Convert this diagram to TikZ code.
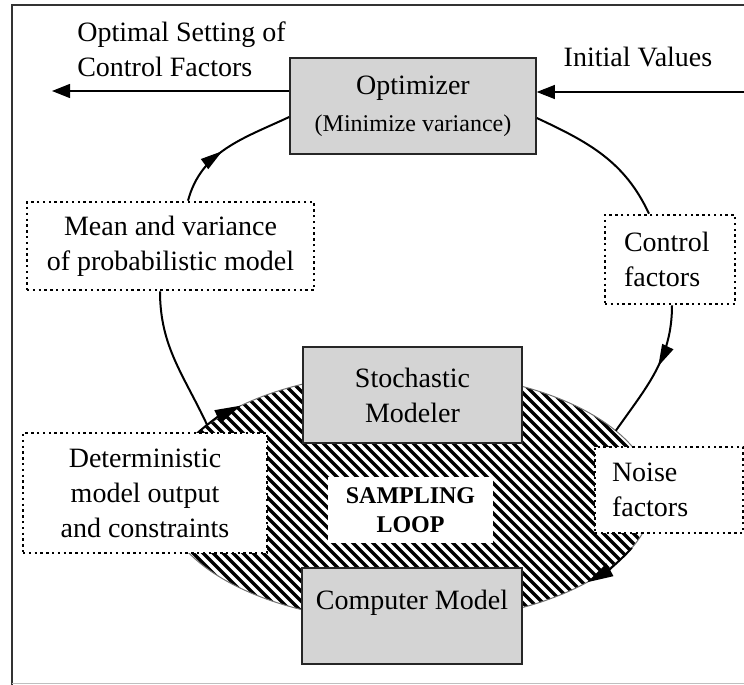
\documentclass[tikz,border=0pt]{standalone}
\usepackage{fontspec}
\setmainfont{Liberation Serif}
\newfontfamily\tms{Liberation Serif}
\usetikzlibrary{arrows.meta, calc, decorations.markings}

\begin{document}
\begin{tikzpicture}[
    x=0.5pt, y=-0.5pt, font=\tms\fontsize{14}{17.5}\selectfont,
    block/.style={draw=black!85, fill=black!17, line width=0.8pt, inner sep=0pt, align=center},
    note/.style={draw=black, line width=1.3pt, dash pattern=on 1.2pt off 1.7pt, fill=white, inner sep=0pt, align=center},
    link/.style={-{Triangle[length=9pt,width=7pt]}, line width=0.6pt},
    feed/.style={line width=1pt, postaction={decorate}, decoration={markings, mark=at position #1 with {\arrow{Triangle[length=11pt,width=6pt]}}}},
    feed/.default=0.5,
    bare/.style={line width=1pt},
    hatch/.style={line width=1.6pt},
    rim/.style={draw=black!55, line width=0.5pt},
    ontip/.style={-{Triangle[length=13pt,width=7pt]}, line width=1pt},
    frame/.style={draw=black!80, line width=0.7pt}
]
    \useasboundingbox (0,0) rectangle (744,685);
    \draw[frame] (12,685) -- (12,5) -- (744,5);
    \draw[draw=black!25, line width=0.4pt] (12,683) -- (744,683);

    \coordinate (zc) at (408,497);
    \begin{scope}
        \clip (zc) ellipse [x radius=245, y radius=125];
        \foreach \i in {-120,-110,...,670}
            \draw[hatch] (\i,360) -- ++(280,280);
    \end{scope}
    \draw[rim] (zc) ellipse [x radius=245, y radius=125];
    \draw[ontip] ([shift={(-154:245 and 125)}]zc) arc[start angle=-154, end angle=-133, x radius=245, y radius=125];
    \draw[ontip] ([shift={(24:245 and 125)}]zc) arc[start angle=24, end angle=43, x radius=245, y radius=125];
    \coordinate (nin) at ([shift={(-32:245 and 125)}]zc);
    \coordinate (lout) at ([shift={(-145:245 and 125)}]zc);

    \node[block, minimum width=123pt, minimum height=48pt] (opt) at (413,106) {Optimizer\\[1pt]{\fontsize{12}{14}\selectfont (Minimize variance)}};
    \node[block, minimum width=109.5pt, minimum height=48pt] (stoch) at (412.5,395) {Stochastic\\Modeler};
    \node[block, minimum width=110pt, minimum height=48pt, text depth=16pt] (comp) at (412,616) {Computer Model};
    \node[fill=white, minimum width=82.5pt, minimum height=33pt, inner sep=0pt, align=center, font=\tms\fontsize{12}{14.5}\selectfont\bfseries] (samp) at (410.5,510) {SAMPLING\\LOOP};

    \node[note, minimum width=143.5pt, minimum height=44pt] (mean) at (170.5,246) {Mean and variance\\of probabilistic model};
    \node[note, text width=46pt, inner xsep=9.5pt, minimum height=44.5pt, align=left] (ctrl) at (670,259.5) {Control\\factors};
    \node[note, minimum width=122pt, minimum height=60pt] (det) at (145,493) {Deterministic\\model output\\and constraints};
    \node[note, text width=57pt, inner xsep=8.5pt, minimum height=43pt, align=left] (noise) at (669,490) {Noise\\factors};

    \node[align=left, inner sep=0pt] (outlbl) at (181.5,49.5) {Optimal Setting of\\Control Factors};
    \node[inner sep=0pt] (inlbl) at (638,57) {Initial Values};

    \coordinate (outend) at (52,91);
    \coordinate (inend) at (746,92);
    \draw[link] (outend -| opt.west) -- (outend);
    \draw[link] (inend) -- (inend -| opt.east);

    \draw[feed=0.45] ($(mean.north)+(17.5,0)$) to[out=75, in=205] ($(opt.west)+(0,11)$);
    \draw[bare] ($(opt.east)+(0,12)$) to[out=-25, in=115] ($(ctrl.north)+(-21,0)$);
    \draw[feed=0.45] ($(ctrl.south)+(2,0)$) to[out=-90, in=55] (nin);
    \draw[bare] (lout) to[out=115, in=-90] ($(mean.south)+(-10.5,0)$);
\end{tikzpicture}
\end{document}
